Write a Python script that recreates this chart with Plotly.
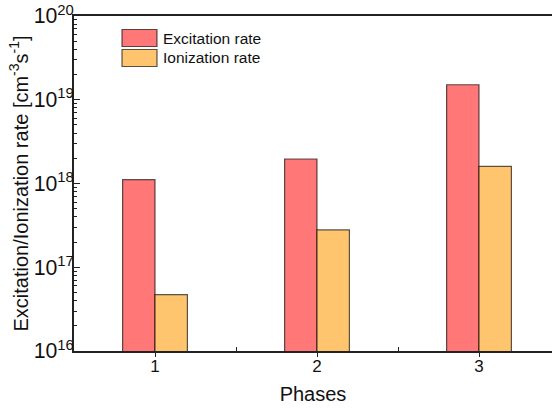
import plotly.graph_objects as go

phases = [1, 2, 3]
excitation = [1.11e18, 1.96e18, 1.51e19]
ionization = [4.7e16, 2.79e17, 1.60e18]
series_names = ["Excitation rate", "Ionization rate"]
colors = ["#FF7777", "#FFC56E"]
x_title = "Phases"
y_title = "Excitation/Ionization rate [cm<sup>-3</sup>s<sup>-1</sup>]"

W, H = 552, 410
L, R, T, B = 74, 0, 16, H - 351
PW, PH = W - L - R, H - T - B
FONT = "Liberation Sans, Arial, sans-serif"
EDGE = "rgba(0,0,0,0.65)"
AX = "#222222"

fig = go.Figure()
for name, vals, c in zip(series_names, [excitation, ionization], colors):
    fig.add_bar(x=phases, y=vals, name=name,
                marker=dict(color=c, line=dict(color=EDGE, width=1.2)),
                showlegend=False)

def px(x):  # screen px -> paper
    return (x - L) / PW

def py(y):
    return (H - B - y) / PH

# legend drawn by hand (large boxes like the reference)
leg_rows = [(29.5, 46.5), (49.5, 66.5)]
for (y0, y1), c, name in zip(leg_rows, colors, series_names):
    fig.add_shape(type="rect", xref="paper", yref="paper",
                  x0=px(122), x1=px(157), y0=py(y1), y1=py(y0),
                  fillcolor=c, line=dict(color=EDGE, width=1.2))
    fig.add_annotation(xref="paper", yref="paper", x=px(161), y=py((y0 + y1) / 2),
                       text=name, showarrow=False, xanchor="left", yanchor="middle",
                       font=dict(size=15.5, color="#111", family=FONT))

fig.update_layout(
    width=W, height=H,
    margin=dict(l=L, r=R, t=T, b=B, autoexpand=False),
    paper_bgcolor="white", plot_bgcolor="white",
    barmode="group", bargap=0.6, bargroupgap=0,
    font=dict(family=FONT, color="#111", size=17),
)
fig.update_xaxes(
    range=[0.5, 0.5 + PW / 162.0],
    tickvals=phases, ticktext=[str(p) for p in phases],
    ticks="outside", ticklen=4, tickwidth=1.2, tickcolor=AX,
    minor=dict(tickvals=[1.5, 2.5], ticks="inside", ticklen=4, tickwidth=1.2, tickcolor=AX),
    showline=True, linewidth=1.6, linecolor=AX, mirror=True,
    showgrid=False, zeroline=False, ticklabeloverflow="allow",
    tickfont=dict(size=17), ticklabelstandoff=-5,
    title=dict(text=x_title, font=dict(size=20), standoff=12),
)
fig.update_yaxes(
    type="log", range=[16, 20], dtick=1, exponentformat="power",
    ticks="inside", ticklen=6, tickwidth=1.2, tickcolor=AX,
    minor=dict(dtick="D1", ticks="inside", ticklen=3, tickwidth=1, tickcolor=AX, showgrid=False),
    showline=True, linewidth=1.6, linecolor=AX, mirror=False,
    showgrid=False, zeroline=False, ticklabeloverflow="allow",
    tickfont=dict(size=17), ticklabelstandoff=-5,
    title=dict(text=y_title, font=dict(size=20), standoff=0),
)

fig.write_html("out.html", config={"displayModeBar": False},
               post_script="document.body.style.margin='0';")
